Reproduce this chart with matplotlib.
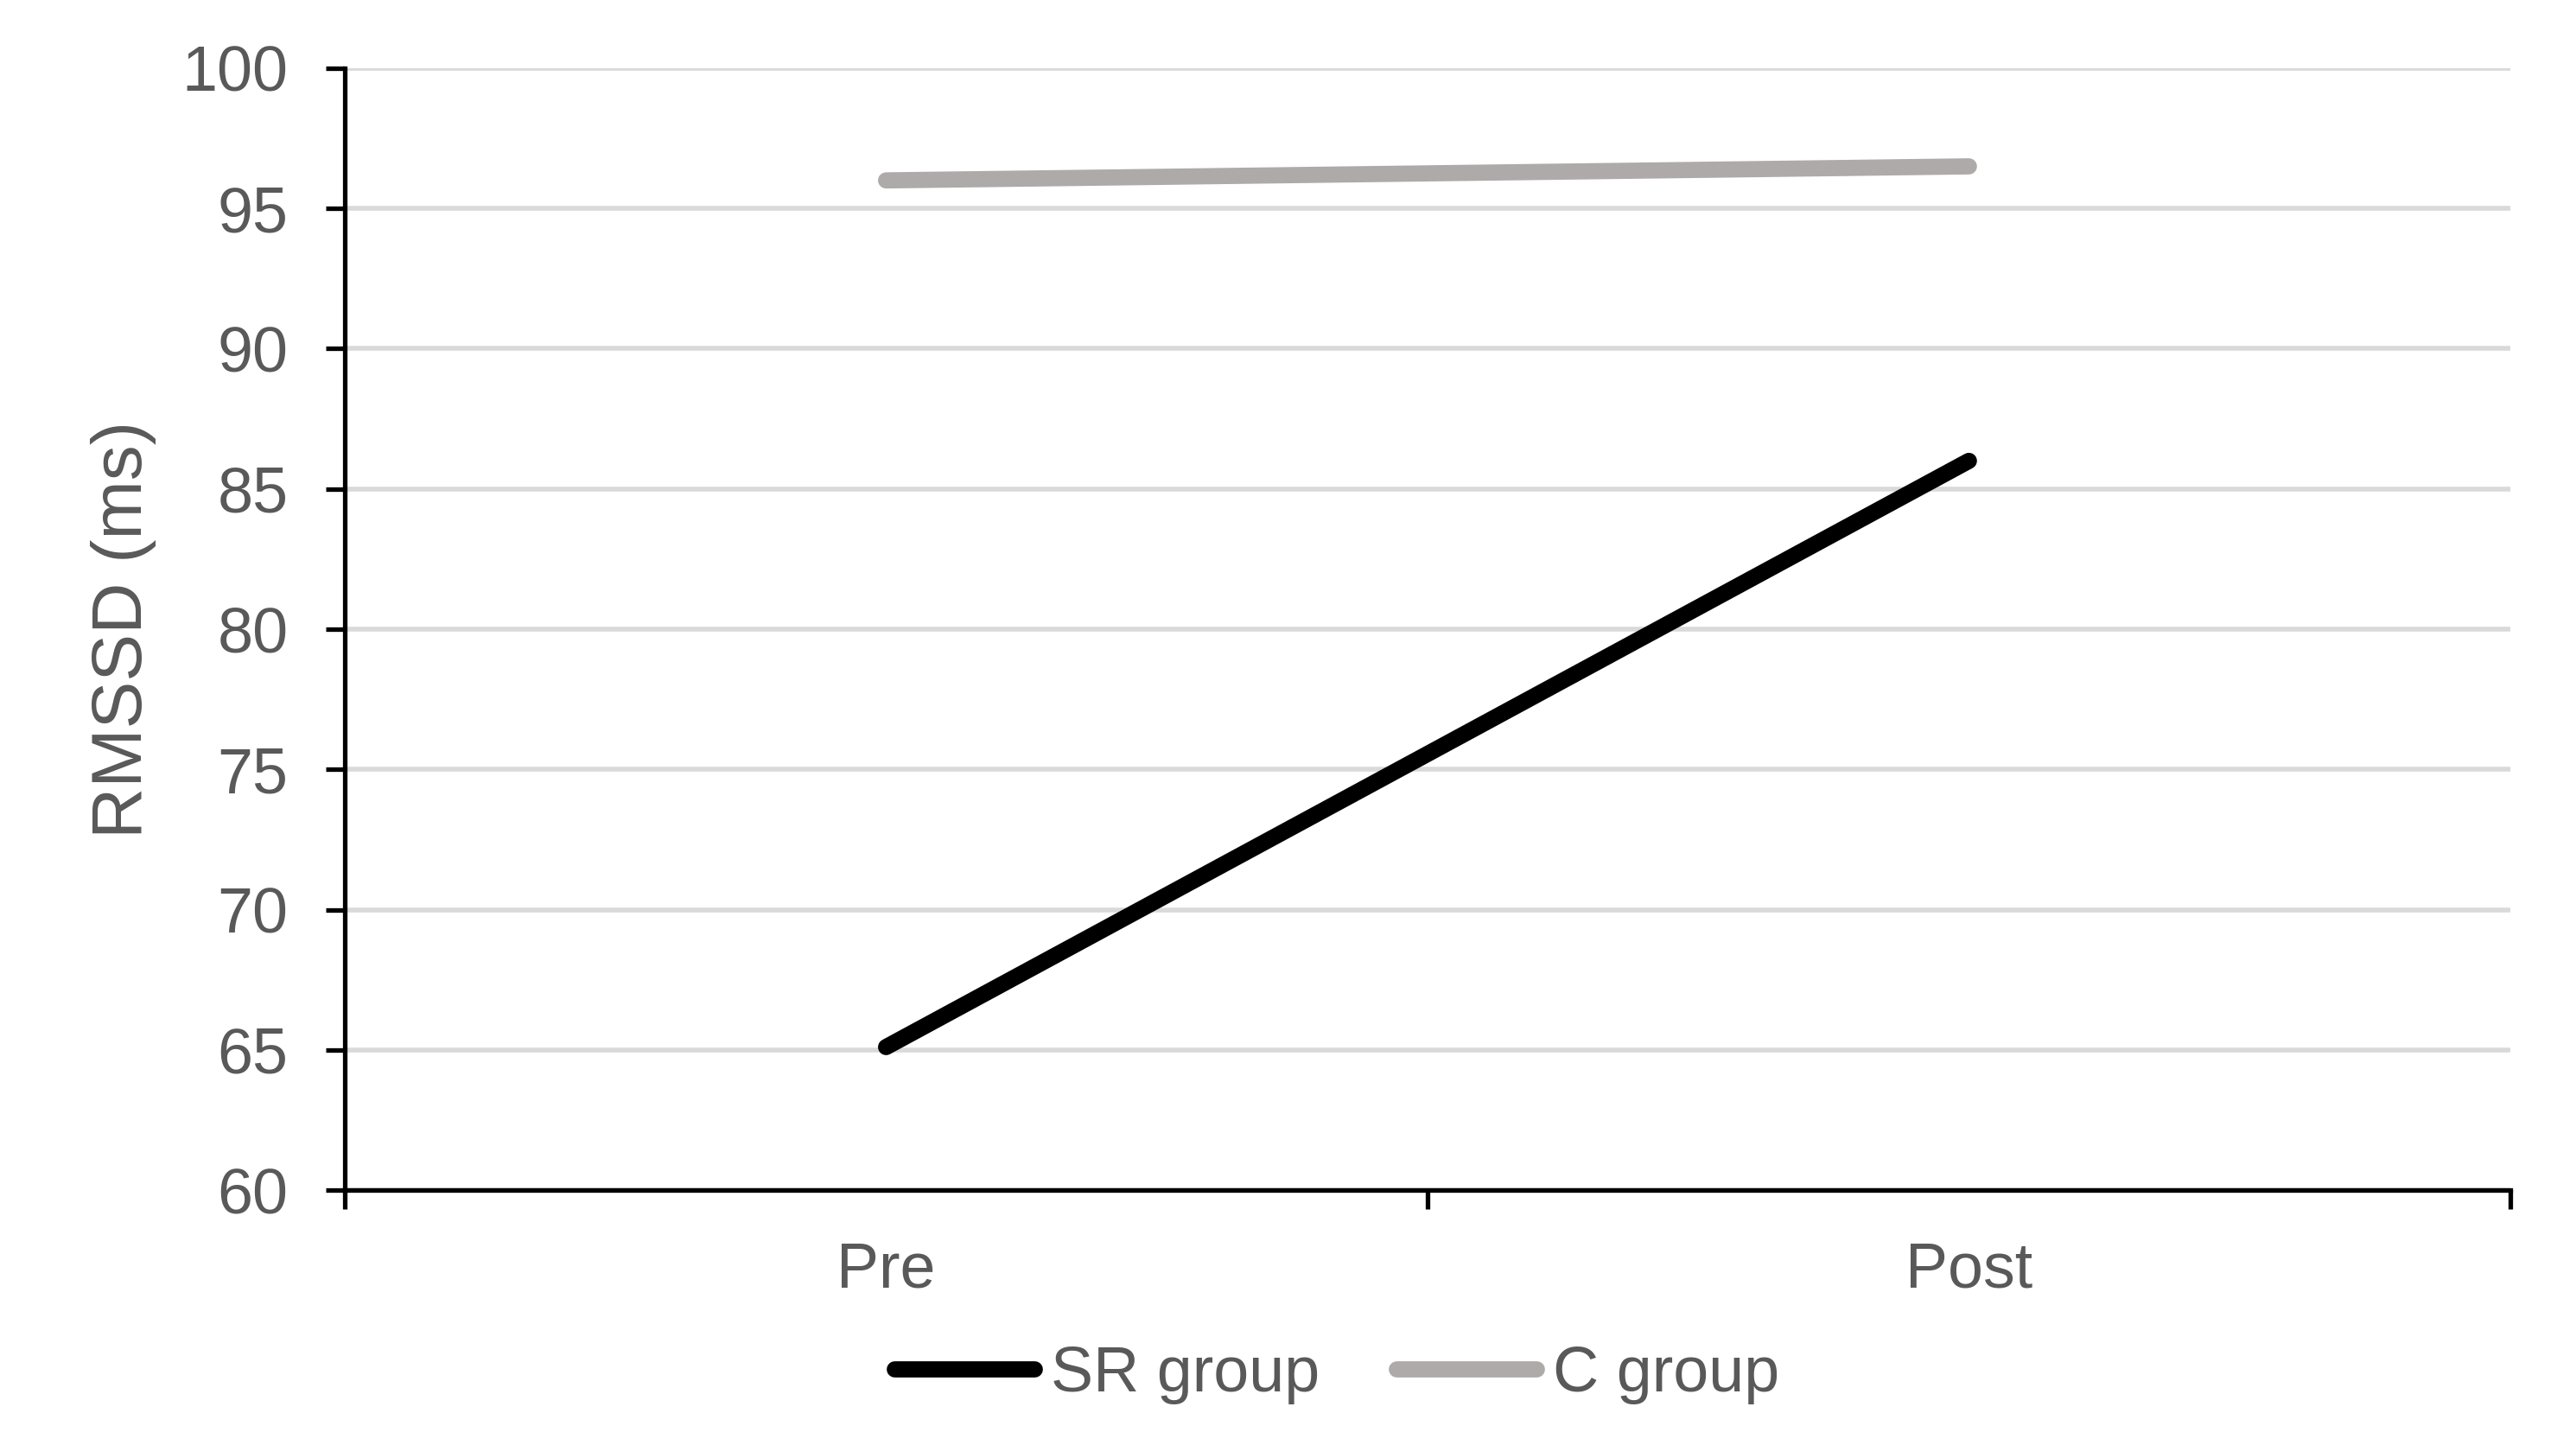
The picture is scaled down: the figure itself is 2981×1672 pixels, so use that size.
import matplotlib
matplotlib.use("Agg")
import matplotlib.pyplot as plt

# data
phases = ["Pre", "Post"]
sr_group = [65.1, 86.0]
c_group = [96.0, 96.5]
yticks = [60, 65, 70, 75, 80, 85, 90, 95, 100]

plt.rcParams['font.family'] = ['Liberation Sans', 'DejaVu Sans']
txt = "#595959"

fig = plt.figure(figsize=(29.81, 16.72), dpi=100)
ax = fig.add_axes([0.1338, 0.1764, 0.8407, 0.7764])

x = list(range(len(phases)))
ax.plot(x, sr_group, color="black", lw=13.5, solid_capstyle="round", label="SR group", zorder=3)
ax.plot(x, c_group, color="#aeaaaa", lw=13.5, solid_capstyle="round", label="C group", zorder=3)

ax.set_xlim(-0.5, len(phases) - 0.5)
ax.set_ylim(60, 100)
ax.set_yticks(yticks)
ax.set_xticks(x)
ax.set_xticklabels(phases)
ax.set_xticks([i - 0.5 for i in range(len(phases) + 1)], minor=True)

ax.grid(axis="y", color="#d9d9d9", lw=4)
ax.set_axisbelow(True)
for s in ["top", "right"]:
    ax.spines[s].set_visible(False)
for s in ["left", "bottom"]:
    ax.spines[s].set_linewidth(3.8)
    ax.spines[s].set_color("black")

ax.tick_params(axis="y", length=16, width=3.8, pad=31, labelsize=53, labelcolor=txt)
ax.tick_params(axis="x", which="major", length=0, pad=42, labelsize=53, labelcolor=txt)
ax.tick_params(axis="x", which="minor", length=16, width=3.8)

ax.set_ylabel("RMSSD (ms)", fontsize=59, color=txt)
ax.yaxis.set_label_coords(-0.087, 0.5)

fig.legend(loc="center", bbox_to_anchor=(0.519, 0.049), ncol=2, frameon=False,
           fontsize=53, labelcolor=txt, handlelength=2.2, handletextpad=0.26,
           columnspacing=1.2)

fig.savefig("out.png", dpi=100)
